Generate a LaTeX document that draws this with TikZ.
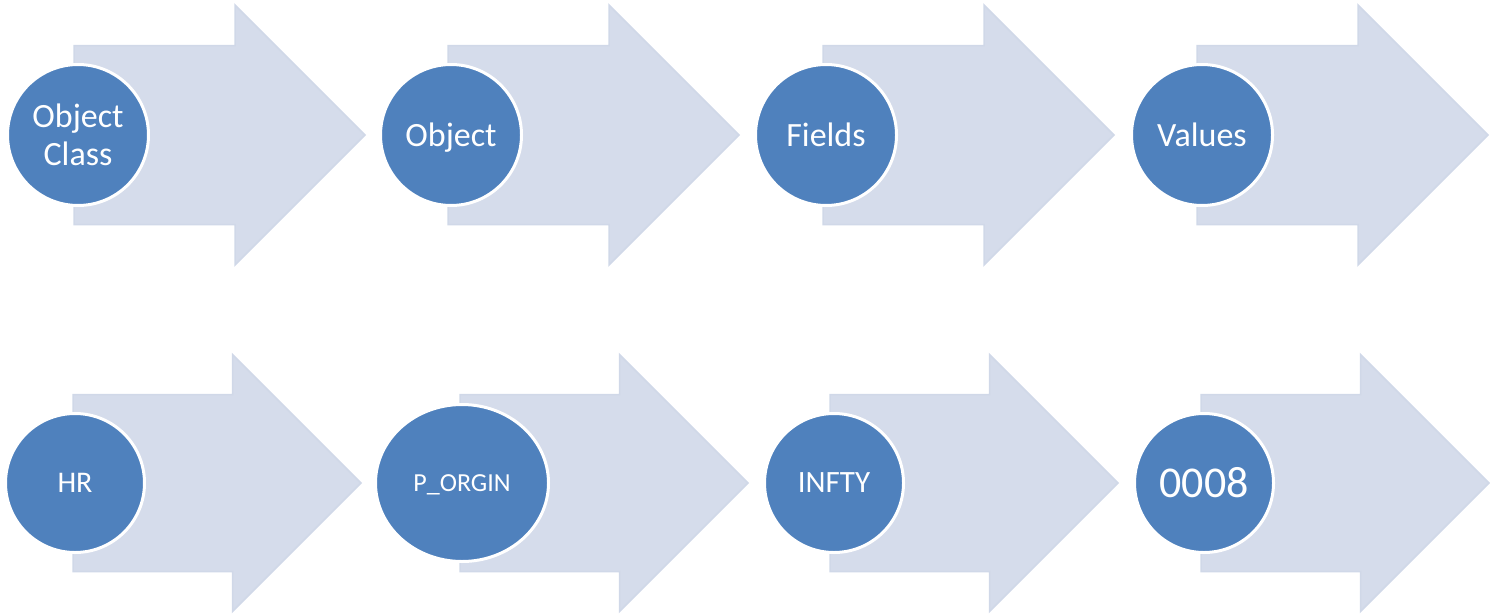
\documentclass[tikz,border=0pt]{standalone}
\usepackage{fontspec}
\setmainfont{Carlito}
\usepackage{tikz}
\usetikzlibrary{shapes.geometric}

\definecolor{stageblue}{RGB}{79,129,189}
\definecolor{flowfill}{RGB}{213,220,235}
\definecolor{flowline}{RGB}{208,216,232}

\begin{document}
\begin{tikzpicture}[x=1pt,y=-1pt,
  flow/.style={fill=flowfill,draw=flowline,line width=1.5pt,line join=miter},
  stage/.style={circle,fill=stageblue,draw=white,line width=3pt,text=white,
    minimum size=141pt,inner sep=0pt,align=center,font=\fontsize{34}{38}\selectfont}]
\useasboundingbox (0,0) rectangle (1490,613);
% top row
\draw[flow] (74,45.5) -- ++(161,0) -- ++(0,-40.5) -- ++(130,130) -- ++(-130,130) -- ++(0,-40.5) -- ++(-161,0) -- cycle;
\draw[flow] (448,45.5) -- ++(161,0) -- ++(0,-40.5) -- ++(130,130) -- ++(-130,130) -- ++(0,-40.5) -- ++(-161,0) -- cycle;
\draw[flow] (823,45.5) -- ++(161,0) -- ++(0,-40.5) -- ++(130,130) -- ++(-130,130) -- ++(0,-40.5) -- ++(-161,0) -- cycle;
\draw[flow] (1197,45.5) -- ++(161,0) -- ++(0,-40.5) -- ++(130,130) -- ++(-130,130) -- ++(0,-40.5) -- ++(-161,0) -- cycle;
\node[stage] (objclass) at (78,135) {Object\\Class};
\node[stage,text depth=0pt] (object) at (451,135) {Object};
\node[stage] (fields) at (826,135) {Fields};
\node[stage] (values) at (1202,135) {Values};
% bottom row
\draw[flow] (73,394.5) -- ++(159.5,0) -- ++(0,-40) -- ++(128.5,128.5) -- ++(-128.5,128.5) -- ++(0,-40) -- ++(-159.5,0) -- cycle;
\draw[flow] (460,394.5) -- ++(159.5,0) -- ++(0,-40) -- ++(128.5,128.5) -- ++(-128.5,128.5) -- ++(0,-40) -- ++(-159.5,0) -- cycle;
\draw[flow] (830,394.5) -- ++(159.5,0) -- ++(0,-40) -- ++(128.5,128.5) -- ++(-128.5,128.5) -- ++(0,-40) -- ++(-159.5,0) -- cycle;
\draw[flow] (1201,394.5) -- ++(159.5,0) -- ++(0,-40) -- ++(128.5,128.5) -- ++(-128.5,128.5) -- ++(0,-40) -- ++(-159.5,0) -- cycle;
\node[stage,minimum size=139pt,font=\fontsize{30}{36}\selectfont] (hr) at (75,483) {HR};
\node[stage,ellipse,minimum width=173pt,minimum height=157pt,text depth=0pt,font=\fontsize{26}{30}\selectfont] (porgin) at (462,483) {P\_ORGIN};
\node[stage,minimum size=139pt,font=\fontsize{31}{36}\selectfont] (infty) at (834,483) {INFTY};
\node[stage,minimum size=139pt,font=\fontsize{44}{50}\selectfont] (zeros) at (1204,483) {0008};
\end{tikzpicture}
\end{document}
